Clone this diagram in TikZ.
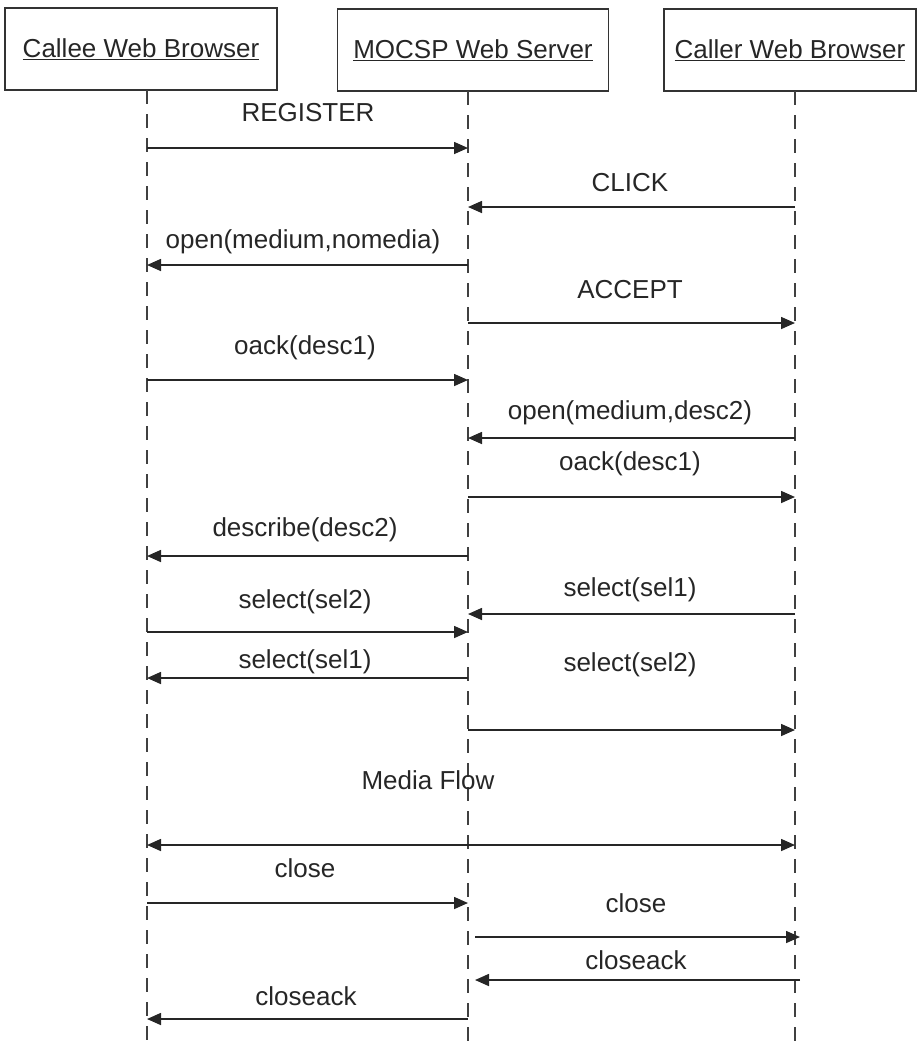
\documentclass[tikz,border=0pt]{standalone}
\usepackage{fontspec}
\setmainfont{Liberation Sans}
\usetikzlibrary{arrows.meta}
\begin{document}
\begin{tikzpicture}[x=1pt,y=-1pt,
  lbl/.style={font=\fontsize{26}{30}\selectfont, text=black!85, inner sep=0pt},
  actor/.style={draw=black!80, line width=1.6pt, minimum height=82pt, inner sep=0pt, font=\fontsize{26}{30}\selectfont, text=black!85},
  life/.style={draw=black!75, line width=1.6pt, dash pattern=on 14pt off 10pt},
  msg/.style={draw=black!85, line width=1.6pt, -{Triangle[length=14pt,width=12pt]}},
  bmsg/.style={draw=black!85, line width=1.6pt, {Triangle[length=14pt,width=12pt]}-{Triangle[length=14pt,width=12pt]}}]
\useasboundingbox (0,0) rectangle (918,1050);
% actors
\node[actor, minimum width=272pt] (callee) at (141,49) {\underline{Callee Web Browser}};
\node[actor, minimum width=271pt] (server) at (473,50) {\underline{MOCSP Web Server}};
\node[actor, minimum width=252pt] (caller) at (790,50) {\underline{Caller Web Browser}};
% lifelines
\coordinate (ce) at (147,1050);
\coordinate (se) at (468,1050);
\coordinate (cre) at (795,1050);
\coordinate (cs) at (147,90);
\coordinate (ss) at (468,91);
\coordinate (crs) at (795,91);
\draw[life] (cs) -- (ce);
\draw[life] (ss) -- (se);
\draw[life] (crs) -- (cre);
% message end points
\foreach \n/\y in {1/148,2/207,3/265,4/323,5/380,6/438,7/497,8/556,9/614,10/632,11/678,12/730,13/845,14/903,17/1019}{
  \coordinate (A\n) at (147,\y);
  \coordinate (B\n) at (468,\y);
  \coordinate (C\n) at (795,\y);
}
\coordinate (B15) at (475,937); \coordinate (C15) at (800,937);
\coordinate (B16) at (475,980); \coordinate (C16) at (800,980);
% messages
\draw[msg] (A1) -- (B1);
\node[lbl] (l1) at (308,113) {REGISTER};
\draw[msg] (C2) -- (B2);
\node[lbl] (l2) at (630,183) {CLICK};
\draw[msg] (B3) -- (A3);
\node[lbl] (l3) at (303,242) {open(medium,nomedia)};
\draw[msg] (B4) -- (C4);
\node[lbl] (l4) at (630,290) {ACCEPT};
\draw[msg] (A5) -- (B5);
\node[lbl] (l5) at (305,348) {oack(desc1)};
\draw[msg] (C6) -- (B6);
\node[lbl] (l6) at (630,413) {open(medium,desc2)};
\draw[msg] (B7) -- (C7);
\node[lbl] (l7) at (630,464) {oack(desc1)};
\draw[msg] (B8) -- (A8);
\node[lbl] (l8) at (305,530) {describe(desc2)};
\draw[msg] (C9) -- (B9);
\node[lbl] (l9) at (630,590) {select(sel1)};
\draw[msg] (A10) -- (B10);
\node[lbl] (l10) at (305,602) {select(sel2)};
\draw[msg] (B11) -- (A11);
\node[lbl] (l11) at (305,662) {select(sel1)};
\draw[msg] (B12) -- (C12);
\node[lbl] (l12) at (630,665) {select(sel2)};
\draw[bmsg] (A13) -- (C13);
\node[lbl] (l13) at (428,780) {Media Flow};
\draw[msg] (A14) -- (B14);
\node[lbl] (l14) at (305,868) {close};
\draw[msg] (B15) -- (C15);
\node[lbl] (l15) at (636,903) {close};
\draw[msg] (C16) -- (B16);
\node[lbl] (l16) at (636,960) {closeack};
\draw[msg] (B17) -- (A17);
\node[lbl] (l17) at (306,996) {closeack};
\end{tikzpicture}
\end{document}
